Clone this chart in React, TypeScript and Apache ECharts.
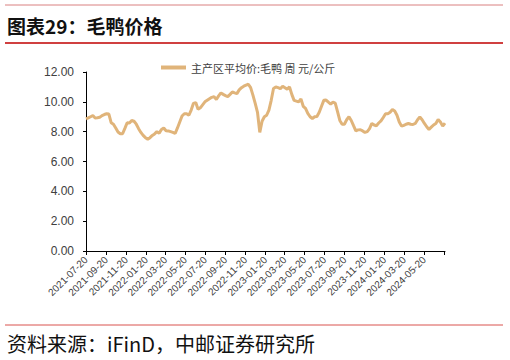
import React, { useEffect, useRef } from "react";
import * as echarts from "echarts";

const titleText = "图表29：毛鸭价格";
const sourceText = "资料来源：iFinD，中邮证券研究所";
const seriesName = "主产区平均价:毛鸭 周 元/公斤";

// weekly observations starting on this date
const startDate = "2021-07-20";
const priceValues: number[] = [
  8.85, 8.92, 9.0, 9.08, 8.92, 8.93, 8.96, 9.08, 9.15, 9.2,
  9.18, 8.6, 8.5, 8.25, 7.98, 7.86, 7.86, 8.22, 8.6, 8.58,
  8.75, 8.7, 8.5, 8.2, 7.95, 7.75, 7.6, 7.5, 7.6, 7.75,
  7.85, 8.0, 7.9, 8.15, 8.25, 8.06, 8.05, 8.0, 7.95, 7.88,
  8.25, 8.65, 9.05, 9.2, 9.2, 9.1, 9.45, 9.9, 9.95, 9.5,
  9.6, 9.8, 10.0, 10.1, 10.2, 10.3, 10.35, 10.16, 10.4, 10.6,
  10.5, 10.42, 10.35, 10.5, 10.66, 10.6, 10.55, 10.8, 10.95, 11.05,
  11.12, 11.18, 10.95, 10.45, 9.89, 9.3, 7.95, 8.7, 9.0, 9.1,
  9.45, 10.1, 10.9, 11.0, 10.95, 10.88, 11.05, 10.95, 10.85, 11.0,
  10.5, 10.1, 10.05, 10.0, 10.2, 9.7, 9.56, 9.22, 9.0, 8.88,
  9.0, 9.02, 9.3, 9.7, 10.1, 10.12, 9.98, 9.85, 9.98, 9.92,
  9.35, 8.75, 8.5, 8.5, 8.8, 9.0, 8.75, 8.4, 8.06, 8.12,
  8.13, 8.05, 7.95, 8.0, 8.2, 8.55, 8.45, 8.4, 8.58, 8.72,
  8.95, 9.2, 9.2, 9.3, 9.48, 9.38, 9.1, 8.65, 8.37, 8.42,
  8.5, 8.55, 8.5, 8.48, 8.55, 8.8, 8.98, 8.8, 8.55, 8.33,
  8.15, 8.3, 8.45, 8.55, 8.82, 8.65, 8.37, 8.58,
];

const xTickDates = [
  "2021-07-20", "2021-09-20", "2021-11-20", "2022-01-20", "2022-03-20",
  "2022-05-20", "2022-07-20", "2022-09-20", "2022-11-20", "2023-01-20",
  "2023-03-20", "2023-05-20", "2023-07-20", "2023-09-20", "2023-11-20",
  "2024-01-20", "2024-03-20", "2024-05-20", "2024-07-20",
];
const xLabelDates = xTickDates.slice(0, 18);

const yMin = 0;
const yMax = 12;
const yInterval = 2;

function parseDate(s: string): number {
  const [y, m, d] = s.split("-").map(Number);
  return new Date(y, m - 1, d).getTime();
}
function pad(n: number) {
  return n < 10 ? "0" + n : "" + n;
}
function fmtDate(v: number): string {
  const d = new Date(v);
  return d.getFullYear() + "-" + pad(d.getMonth() + 1) + "-" + pad(d.getDate());
}

const DAY = 24 * 3600 * 1000;

export default function App() {
  const ref = useRef<HTMLDivElement>(null);
  useEffect(() => {
    if (!ref.current) return;
    const chart = echarts.init(ref.current, null, { renderer: "svg" });
    const t0 = parseDate(startDate);
    const data = priceValues.map((v, i) => [t0 + i * 7 * DAY, v]);
    const tMax = data[data.length - 1][0] as number;
    const lineColor = "#E0B47A";
    chart.setOption({
      animation: false,
      backgroundColor: "#ffffff",
      legend: {
        show: true,
        left: 161,
        top: 62,
        padding: 0,
        icon: "rect",
        itemWidth: 25,
        itemHeight: 4,
        textStyle: {
          fontSize: 11,
          color: "#404040",
          fontFamily: "'Noto Sans CJK SC', sans-serif",
        },
        data: [seriesName],
      },
      grid: {
        left: 86,
        top: 72,
        width: 359,
        bottom: 109,
        containLabel: false,
      },
      xAxis: {
        type: "value",
        min: t0,
        max: tMax,
        scale: true,
        splitLine: { show: false },
        axisLine: { show: true, lineStyle: { color: "#000000", width: 1 } },
        axisTick: {
          show: true,
          length: 4,
          inside: false,
          lineStyle: { color: "#000000" },
          customValues: xTickDates.map(parseDate),
        },
        axisLabel: {
          rotate: 45,
          fontSize: 10,
          color: "#404040",
          margin: 7,
          hideOverlap: false,
          fontFamily: "'Liberation Sans', Arial, sans-serif",
          customValues: xLabelDates.map(parseDate),
          formatter: (v: number) => fmtDate(v),
        },
      },
      yAxis: {
        type: "value",
        min: yMin,
        max: yMax,
        interval: yInterval,
        splitLine: { show: false },
        axisLine: { show: true, lineStyle: { color: "#000000", width: 1 } },
        axisTick: { show: true, length: 3, lineStyle: { color: "#000000" } },
        axisLabel: {
          fontSize: 12,
          color: "#404040",
          margin: 12,
          fontFamily: "'Liberation Sans', Arial, sans-serif",
          formatter: (v: number) => v.toFixed(2),
        },
      },
      series: [
        {
          name: seriesName,
          type: "line",
          data,
          showSymbol: false,
          symbol: "none",
          lineStyle: { color: lineColor, width: 3 },
          itemStyle: { color: lineColor },
        },
      ],
      graphic: [
        {
          type: "line",
          shape: { x1: 5, y1: 5, x2: 503, y2: 5 },
          style: { stroke: "#D98080", lineWidth: 1 },
        },
        {
          type: "text",
          x: 7,
          y: 25,
          style: {
            text: titleText,
            font: "bold 19px 'Noto Sans CJK SC', sans-serif",
            fill: "#111111",
            verticalAlign: "middle",
          },
        },
        {
          type: "line",
          shape: { x1: 5, y1: 43, x2: 503, y2: 43 },
          style: { stroke: "#C00000", lineWidth: 1.5 },
        },
        {
          type: "line",
          shape: { x1: 5, y1: 325, x2: 503, y2: 325 },
          style: { stroke: "#D9534F", lineWidth: 1 },
        },
        {
          type: "text",
          x: 7,
          y: 343,
          style: {
            text: sourceText,
            font: "20px 'Noto Sans CJK SC', sans-serif",
            fill: "#111111",
            verticalAlign: "middle",
          },
        },
      ],
    });
    return () => chart.dispose();
  }, []);
  return (
    <div
      ref={ref}
      style={{ position: "fixed", left: 0, top: 0, width: 510, height: 360 }}
    />
  );
}
